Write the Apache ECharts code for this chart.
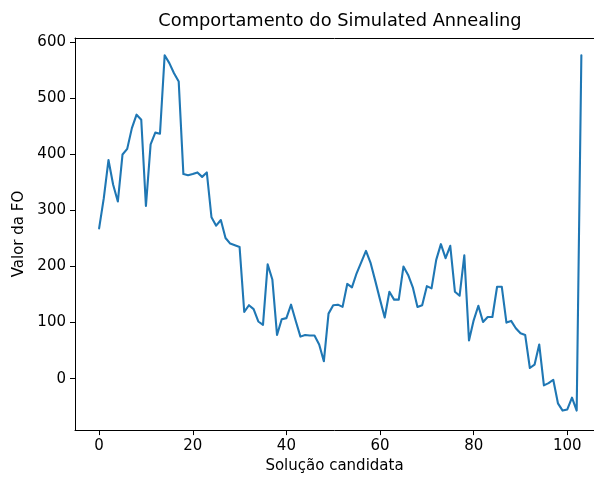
<!DOCTYPE html>
<html>
<head>
<meta charset="utf-8">
<script src="https://cdn.jsdelivr.net/npm/echarts@6/dist/echarts.min.js"></script>
<style>html,body{margin:0;padding:0;background:#fff;}#c{width:594px;height:479px;}</style>
</head>
<body>
<div id="c"></div>
<script>
// Objective-function value for each candidate solution (index = solution number)
const foValues = [
  268, 322, 390, 346, 316, 400, 410, 447, 471, 462,
  308, 418, 439, 437, 577, 563, 545, 530, 365, 363,
  365, 368, 360, 368, 288, 273, 283, 251, 241, 238,
  235, 119, 131, 124, 102, 96, 204, 177, 78, 106,
  108, 132, 103, 75, 78, 77, 77, 61, 31, 116,
  131, 132, 128, 169, 163, 188, 208, 228, 206, 174,
  141, 109, 155, 141, 141, 200, 185, 163, 128, 131,
  165, 161, 212, 240, 215, 237, 155, 148, 220, 68,
  104, 130, 101, 110, 110, 164, 164, 100, 103, 90,
  81, 78, 19, 25, 61, -12, -8, -2, -44, -57,
  -55, -34, -57, 577
];
const xTicks = [0, 20, 40, 60, 80, 100];
const yTicks = [0, 100, 200, 300, 400, 500, 600];
const titleText = 'Comportamento do Simulated Annealing';
const xName = 'Solução candidata';
const yName = 'Valor da FO';

const font = 'DejaVu Sans';
const fs = 15;
const chart = echarts.init(document.getElementById('c'), null, {renderer: 'canvas'});
chart.setOption({
  animation: false,
  backgroundColor: '#fff',
  title: {
    text: titleText,
    left: 340, top: 12, padding: 0,
    textAlign: 'center',
    textStyle: {fontFamily: font, fontSize: 17.8, fontWeight: 'normal', color: '#000'}
  },
  grid: {left: 75, top: 38, right: 0, height: 395, show: false, containLabel: false},
  xAxis: [{
    type: 'value', min: -5.15, max: 105.7,
    name: xName, nameLocation: 'middle', nameGap: 28,
    nameTextStyle: {fontFamily: font, fontSize: fs, color: '#000'},
    axisLine: {show: true, onZero: false, lineStyle: {color: '#000', width: 1}},
    axisTick: {show: true, inside: false, length: 5, customValues: xTicks, lineStyle: {color: '#000', width: 1}},
    axisLabel: {customValues: xTicks, margin: 9, fontFamily: font, fontSize: fs, color: '#000'},
    splitLine: {show: false}
  }, {
    type: 'value', position: 'top', min: -5.15, max: 105.7,
    axisLine: {show: true, onZero: false, lineStyle: {color: '#000', width: 1}},
    axisTick: {show: false}, axisLabel: {show: false}, splitLine: {show: false}
  }],
  yAxis: {
    type: 'value', min: -91.8, max: 607.8,
    name: yName, nameLocation: 'middle', nameGap: 45, nameRotate: 90,
    nameTextStyle: {fontFamily: font, fontSize: fs, color: '#000'},
    axisLine: {show: true, onZero: false, lineStyle: {color: '#000', width: 1}},
    axisTick: {show: true, inside: false, length: 5, customValues: yTicks, lineStyle: {color: '#000', width: 1}},
    axisLabel: {customValues: yTicks, margin: 9, fontFamily: font, fontSize: fs, color: '#000'},
    splitLine: {show: false}
  },
  series: [{
    type: 'line',
    data: foValues.map((v, i) => [i, v]),
    showSymbol: false,
    lineStyle: {color: '#1f77b4', width: 2.1, join: 'round', cap: 'round'},
    itemStyle: {color: '#1f77b4'}
  }]
});
</script>
</body>
</html>
